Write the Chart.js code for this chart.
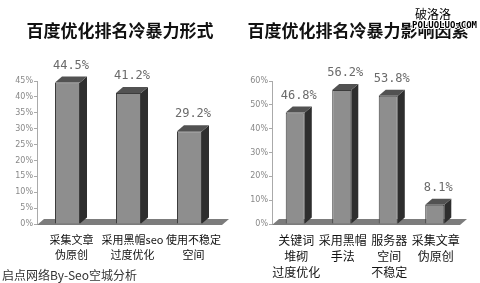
<!DOCTYPE html>
<html>
<head>
<meta charset="utf-8">
<script src="https://cdn.jsdelivr.net/npm/chart.js@4/dist/chart.umd.min.js"></script>
<style>
  html, body { margin: 0; padding: 0; background: #fff; }
  #wrap { position: relative; width: 480px; height: 283px; overflow: hidden; }
  .box { position: absolute; top: 0; width: 240px; height: 283px; }
  .ttl { position: absolute; top: 17px; height: 20px; line-height: 20px; text-align: center;
         font: bold 17px "Noto Sans CJK SC"; color: #111; white-space: nowrap; }
  #note { position: absolute; left: 2px; top: 266px; font: 12px "Noto Sans CJK SC"; color: #333; white-space: nowrap; }
  .wm { position: absolute; color: #000; white-space: nowrap;
        text-shadow: 1px 0 #fff, -1px 0 #fff, 0 1px #fff, 0 -1px #fff, 1px 1px #fff, -1px -1px #fff; }
</style>
</head>
<body>
<div id="wrap">
  <div class="box" style="left:0"><canvas id="left-chart"></canvas></div>
  <div class="box" style="left:240px"><canvas id="right-chart"></canvas></div>
  <div class="ttl" id="left-title" style="left:0; width:240px;"></div>
  <div class="ttl" id="right-title" style="left:240px; width:236px;"></div>
  <div class="wm" style="left:415px; top:5px; font: 12px 'Noto Sans CJK SC';">破洛洛</div>
  <div class="wm" style="left:412px; top:20px; font: bold 9px 'DejaVu Sans Mono';">POLUOLUO.COM</div>
  <div id="note">启点网络By-Seo空城分析</div>
</div>
<script>
// 左图：冷暴力形式
const leftTitle = '百度优化排名冷暴力形式';
const leftLabels = [['采集文章', '伪原创'], ['采用黑帽seo', '过度优化'], ['使用不稳定', '空间']];
const leftValues = [44.5, 41.2, 29.2];
const leftMax = 45, leftStep = 5;

// 右图：冷暴力影响因素
const rightTitle = '百度优化排名冷暴力影响因素';
const rightLabels = [['关键词', '堆砌', '过度优化'], ['采用黑帽', '手法'], ['服务器', '空间', '不稳定'], ['采集文章', '伪原创']];
const rightValues = [46.8, 56.2, 53.8, 8.1];
const rightMax = 60, rightStep = 10;

const DEPTH = 7, RISE = 6;

document.getElementById('left-title').textContent = leftTitle;
document.getElementById('right-title').textContent = rightTitle;

// 画地板和柱子的侧面/顶面，做出3D效果
const bar3d = {
    id: 'bar3d',
    beforeDatasetsDraw(chart) {
        const c = chart.ctx, a = chart.chartArea;
        c.save();
        c.fillStyle = '#7c7c7c';
        c.beginPath();
        c.moveTo(a.left, a.bottom + 1);
        c.lineTo(a.right + 2, a.bottom + 1);
        c.lineTo(a.right + 2 + DEPTH, a.bottom + 1 - RISE);
        c.lineTo(a.left + DEPTH, a.bottom + 1 - RISE);
        c.closePath();
        c.fill();
        c.restore();
    },
    afterDatasetsDraw(chart) {
        const c = chart.ctx;
        const vals = chart.data.datasets[0].data;
        c.save();
        chart.getDatasetMeta(0).data.forEach((bar, i) => {
            const p = bar.getProps(['x', 'y', 'base', 'width'], true);
            const l = p.x - p.width / 2, r = p.x + p.width / 2;
            // 侧面
            c.fillStyle = '#2e2e2e';
            c.beginPath();
            c.moveTo(r, p.y);
            c.lineTo(r + DEPTH, p.y - RISE);
            c.lineTo(r + DEPTH, p.base - RISE);
            c.lineTo(r, p.base);
            c.closePath();
            c.fill();
            // 顶面
            c.fillStyle = '#525252';
            c.beginPath();
            c.moveTo(l, p.y);
            c.lineTo(l + DEPTH, p.y - RISE);
            c.lineTo(r + DEPTH, p.y - RISE);
            c.lineTo(r, p.y);
            c.closePath();
            c.fill();
            // 数值
            c.fillStyle = '#6a6a6a';
            c.font = '12px "DejaVu Sans Mono"';
            c.textAlign = 'center';
            c.textBaseline = 'middle';
            c.fillText(vals[i].toFixed(1) + '%', p.x + DEPTH / 2, p.y - RISE - 11);
        });
        c.restore();
    }
};

function makeChart(id, labels, values, max, step, axisW, padRight, labelShift, labelSize) {
    return new Chart(document.getElementById(id), {
        type: 'bar',
        data: {
            labels: labels,
            datasets: [{
                data: values,
                backgroundColor: '#8e8e8e',
                borderColor: '#3c3c3c',
                borderWidth: 1,
                barPercentage: 0.41,
                categoryPercentage: 1
            }]
        },
        options: {
            responsive: false,
            animation: false,
            layout: { padding: { left: 0, right: padRight, top: 81, bottom: 0 } },
            plugins: {
                legend: { display: false },
                tooltip: { enabled: false },
                title: { display: false }
            },
            scales: {
                x: {
                    grid: { display: false },
                    border: { display: false },
                    ticks: {
                        color: '#111',
                        font: { family: 'Noto Sans CJK SC', size: labelSize, lineHeight: 1.3 },
                        padding: 1,
                        labelOffset: labelShift,
                        maxRotation: 0,
                        autoSkip: false
                    },
                    afterFit(s) { s.height = 59; }
                },
                y: {
                    min: 0,
                    max: max,
                    grid: { drawOnChartArea: false, tickLength: 3, color: '#aaa' },
                    border: { color: '#aaa' },
                    ticks: {
                        stepSize: step,
                        color: '#888',
                        font: { family: 'DejaVu Sans', size: 8 },
                        padding: 1,
                        callback: v => v + '%'
                    },
                    afterFit(s) { s.width = axisW; }
                }
            }
        },
        plugins: [bar3d]
    });
}

function sizeCanvas(id) {
    const cv = document.getElementById(id);
    cv.width = 240; cv.height = 283;
    cv.style.width = '240px'; cv.style.height = '283px';
}
sizeCanvas('left-chart');
sizeCanvas('right-chart');

makeChart('left-chart', leftLabels, leftValues, leftMax, leftStep, 37, 20, 4, 11);
makeChart('right-chart', rightLabels, rightValues, rightMax, rightStep, 32, 22, 1, 12);
</script>
</body>
</html>
